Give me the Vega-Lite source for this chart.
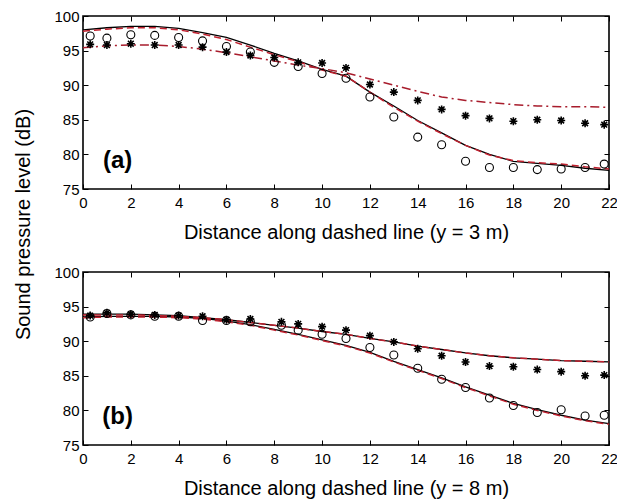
{
  "$schema": "https://vega.github.io/schema/vega-lite/v6.json",
  "padding": {"left": 12, "top": 8, "right": 2, "bottom": 5},
  "bounds": "flush",
  "spacing": 83,
  "datasets": {
    "lines": [
      {"panel":"a","model":"solid","curve":"1","x":0,"y":98.0},{"panel":"a","model":"solid","curve":"1","x":1,"y":98.3},{"panel":"a","model":"solid","curve":"1","x":2,"y":98.5},{"panel":"a","model":"solid","curve":"1","x":3,"y":98.5},{"panel":"a","model":"solid","curve":"1","x":4,"y":98.2},{"panel":"a","model":"solid","curve":"1","x":5,"y":97.6},{"panel":"a","model":"solid","curve":"1","x":6,"y":96.9},{"panel":"a","model":"solid","curve":"1","x":7,"y":95.8},{"panel":"a","model":"solid","curve":"1","x":8,"y":94.6},{"panel":"a","model":"solid","curve":"1","x":9,"y":93.5},{"panel":"a","model":"solid","curve":"1","x":10,"y":92.3},{"panel":"a","model":"solid","curve":"1","x":11,"y":91.3},{"panel":"a","model":"solid","curve":"1","x":12,"y":89.0},{"panel":"a","model":"solid","curve":"1","x":13,"y":87.0},{"panel":"a","model":"solid","curve":"1","x":14,"y":84.9},{"panel":"a","model":"solid","curve":"1","x":15,"y":83.1},{"panel":"a","model":"solid","curve":"1","x":16,"y":81.3},{"panel":"a","model":"solid","curve":"1","x":17,"y":80.0},{"panel":"a","model":"solid","curve":"1","x":18,"y":79.0},{"panel":"a","model":"solid","curve":"1","x":19,"y":78.7},{"panel":"a","model":"solid","curve":"1","x":20,"y":78.4},{"panel":"a","model":"solid","curve":"1","x":21,"y":78.0},{"panel":"a","model":"solid","curve":"1","x":22,"y":77.7},
      {"panel":"a","model":"dashed","curve":"1","x":0,"y":97.8},{"panel":"a","model":"dashed","curve":"1","x":1,"y":98.1},{"panel":"a","model":"dashed","curve":"1","x":2,"y":98.3},{"panel":"a","model":"dashed","curve":"1","x":3,"y":98.3},{"panel":"a","model":"dashed","curve":"1","x":4,"y":98.0},{"panel":"a","model":"dashed","curve":"1","x":5,"y":97.4},{"panel":"a","model":"dashed","curve":"1","x":6,"y":96.6},{"panel":"a","model":"dashed","curve":"1","x":7,"y":95.5},{"panel":"a","model":"dashed","curve":"1","x":8,"y":94.4},{"panel":"a","model":"dashed","curve":"1","x":9,"y":93.4},{"panel":"a","model":"dashed","curve":"1","x":10,"y":92.2},{"panel":"a","model":"dashed","curve":"1","x":11,"y":91.3},{"panel":"a","model":"dashed","curve":"1","x":12,"y":89.0},{"panel":"a","model":"dashed","curve":"1","x":13,"y":86.8},{"panel":"a","model":"dashed","curve":"1","x":14,"y":84.8},{"panel":"a","model":"dashed","curve":"1","x":15,"y":83.0},{"panel":"a","model":"dashed","curve":"1","x":16,"y":81.3},{"panel":"a","model":"dashed","curve":"1","x":17,"y":79.9},{"panel":"a","model":"dashed","curve":"1","x":18,"y":79.1},{"panel":"a","model":"dashed","curve":"1","x":19,"y":78.8},{"panel":"a","model":"dashed","curve":"1","x":20,"y":78.6},{"panel":"a","model":"dashed","curve":"1","x":21,"y":78.2},{"panel":"a","model":"dashed","curve":"1","x":22,"y":77.9},
      {"panel":"a","model":"dashdot","curve":"1","x":0,"y":95.4},{"panel":"a","model":"dashdot","curve":"1","x":1,"y":95.7},{"panel":"a","model":"dashdot","curve":"1","x":2,"y":95.8},{"panel":"a","model":"dashdot","curve":"1","x":3,"y":95.8},{"panel":"a","model":"dashdot","curve":"1","x":4,"y":95.6},{"panel":"a","model":"dashdot","curve":"1","x":5,"y":95.2},{"panel":"a","model":"dashdot","curve":"1","x":6,"y":94.7},{"panel":"a","model":"dashdot","curve":"1","x":7,"y":94.1},{"panel":"a","model":"dashdot","curve":"1","x":8,"y":93.5},{"panel":"a","model":"dashdot","curve":"1","x":9,"y":92.9},{"panel":"a","model":"dashdot","curve":"1","x":10,"y":92.4},{"panel":"a","model":"dashdot","curve":"1","x":11,"y":91.8},{"panel":"a","model":"dashdot","curve":"1","x":12,"y":90.9},{"panel":"a","model":"dashdot","curve":"1","x":13,"y":90.0},{"panel":"a","model":"dashdot","curve":"1","x":14,"y":89.1},{"panel":"a","model":"dashdot","curve":"1","x":15,"y":88.3},{"panel":"a","model":"dashdot","curve":"1","x":16,"y":87.8},{"panel":"a","model":"dashdot","curve":"1","x":17,"y":87.5},{"panel":"a","model":"dashdot","curve":"1","x":18,"y":87.2},{"panel":"a","model":"dashdot","curve":"1","x":19,"y":87.0},{"panel":"a","model":"dashdot","curve":"1","x":20,"y":86.9},{"panel":"a","model":"dashdot","curve":"1","x":21,"y":86.9},{"panel":"a","model":"dashdot","curve":"1","x":22,"y":86.8},
      {"panel":"b","model":"solid","curve":"upper","x":0,"y":93.9},{"panel":"b","model":"solid","curve":"upper","x":1,"y":93.9},{"panel":"b","model":"solid","curve":"upper","x":2,"y":93.9},{"panel":"b","model":"solid","curve":"upper","x":3,"y":93.8},{"panel":"b","model":"solid","curve":"upper","x":4,"y":93.7},{"panel":"b","model":"solid","curve":"upper","x":5,"y":93.4},{"panel":"b","model":"solid","curve":"upper","x":6,"y":93.1},{"panel":"b","model":"solid","curve":"upper","x":7,"y":92.7},{"panel":"b","model":"solid","curve":"upper","x":8,"y":92.3},{"panel":"b","model":"solid","curve":"upper","x":9,"y":91.9},{"panel":"b","model":"solid","curve":"upper","x":10,"y":91.4},{"panel":"b","model":"solid","curve":"upper","x":11,"y":91.0},{"panel":"b","model":"solid","curve":"upper","x":12,"y":90.4},{"panel":"b","model":"solid","curve":"upper","x":13,"y":89.9},{"panel":"b","model":"solid","curve":"upper","x":14,"y":89.3},{"panel":"b","model":"solid","curve":"upper","x":15,"y":88.8},{"panel":"b","model":"solid","curve":"upper","x":16,"y":88.3},{"panel":"b","model":"solid","curve":"upper","x":17,"y":87.9},{"panel":"b","model":"solid","curve":"upper","x":18,"y":87.6},{"panel":"b","model":"solid","curve":"upper","x":19,"y":87.4},{"panel":"b","model":"solid","curve":"upper","x":20,"y":87.2},{"panel":"b","model":"solid","curve":"upper","x":21,"y":87.1},{"panel":"b","model":"solid","curve":"upper","x":22,"y":87.0},
      {"panel":"b","model":"solid","curve":"lower","x":0,"y":93.5},{"panel":"b","model":"solid","curve":"lower","x":1,"y":93.6},{"panel":"b","model":"solid","curve":"lower","x":2,"y":93.6},{"panel":"b","model":"solid","curve":"lower","x":3,"y":93.6},{"panel":"b","model":"solid","curve":"lower","x":4,"y":93.5},{"panel":"b","model":"solid","curve":"lower","x":5,"y":93.3},{"panel":"b","model":"solid","curve":"lower","x":6,"y":92.9},{"panel":"b","model":"solid","curve":"lower","x":7,"y":92.4},{"panel":"b","model":"solid","curve":"lower","x":8,"y":91.7},{"panel":"b","model":"solid","curve":"lower","x":9,"y":91.0},{"panel":"b","model":"solid","curve":"lower","x":10,"y":90.2},{"panel":"b","model":"solid","curve":"lower","x":11,"y":89.4},{"panel":"b","model":"solid","curve":"lower","x":12,"y":88.4},{"panel":"b","model":"solid","curve":"lower","x":13,"y":87.1},{"panel":"b","model":"solid","curve":"lower","x":14,"y":85.9},{"panel":"b","model":"solid","curve":"lower","x":15,"y":84.7},{"panel":"b","model":"solid","curve":"lower","x":16,"y":83.4},{"panel":"b","model":"solid","curve":"lower","x":17,"y":82.2},{"panel":"b","model":"solid","curve":"lower","x":18,"y":81.0},{"panel":"b","model":"solid","curve":"lower","x":19,"y":80.1},{"panel":"b","model":"solid","curve":"lower","x":20,"y":79.3},{"panel":"b","model":"solid","curve":"lower","x":21,"y":78.6},{"panel":"b","model":"solid","curve":"lower","x":22,"y":78.1},
      {"panel":"b","model":"dashed","curve":"upper","x":0,"y":93.8},{"panel":"b","model":"dashed","curve":"upper","x":1,"y":93.8},{"panel":"b","model":"dashed","curve":"upper","x":2,"y":93.8},{"panel":"b","model":"dashed","curve":"upper","x":3,"y":93.7},{"panel":"b","model":"dashed","curve":"upper","x":4,"y":93.6},{"panel":"b","model":"dashed","curve":"upper","x":5,"y":93.4},{"panel":"b","model":"dashed","curve":"upper","x":6,"y":93.1},{"panel":"b","model":"dashed","curve":"upper","x":7,"y":92.7},{"panel":"b","model":"dashed","curve":"upper","x":8,"y":92.3},{"panel":"b","model":"dashed","curve":"upper","x":9,"y":91.9},{"panel":"b","model":"dashed","curve":"upper","x":10,"y":91.4},{"panel":"b","model":"dashed","curve":"upper","x":11,"y":91.0},{"panel":"b","model":"dashed","curve":"upper","x":12,"y":90.4},{"panel":"b","model":"dashed","curve":"upper","x":13,"y":89.9},{"panel":"b","model":"dashed","curve":"upper","x":14,"y":89.3},{"panel":"b","model":"dashed","curve":"upper","x":15,"y":88.8},{"panel":"b","model":"dashed","curve":"upper","x":16,"y":88.3},{"panel":"b","model":"dashed","curve":"upper","x":17,"y":87.9},{"panel":"b","model":"dashed","curve":"upper","x":18,"y":87.6},{"panel":"b","model":"dashed","curve":"upper","x":19,"y":87.4},{"panel":"b","model":"dashed","curve":"upper","x":20,"y":87.2},{"panel":"b","model":"dashed","curve":"upper","x":21,"y":87.1},{"panel":"b","model":"dashed","curve":"upper","x":22,"y":87.0},
      {"panel":"b","model":"dashed","curve":"lower","x":0,"y":93.4},{"panel":"b","model":"dashed","curve":"lower","x":1,"y":93.5},{"panel":"b","model":"dashed","curve":"lower","x":2,"y":93.5},{"panel":"b","model":"dashed","curve":"lower","x":3,"y":93.5},{"panel":"b","model":"dashed","curve":"lower","x":4,"y":93.4},{"panel":"b","model":"dashed","curve":"lower","x":5,"y":93.2},{"panel":"b","model":"dashed","curve":"lower","x":6,"y":92.8},{"panel":"b","model":"dashed","curve":"lower","x":7,"y":92.3},{"panel":"b","model":"dashed","curve":"lower","x":8,"y":91.6},{"panel":"b","model":"dashed","curve":"lower","x":9,"y":90.9},{"panel":"b","model":"dashed","curve":"lower","x":10,"y":90.1},{"panel":"b","model":"dashed","curve":"lower","x":11,"y":89.3},{"panel":"b","model":"dashed","curve":"lower","x":12,"y":88.3},{"panel":"b","model":"dashed","curve":"lower","x":13,"y":87.0},{"panel":"b","model":"dashed","curve":"lower","x":14,"y":85.8},{"panel":"b","model":"dashed","curve":"lower","x":15,"y":84.6},{"panel":"b","model":"dashed","curve":"lower","x":16,"y":83.3},{"panel":"b","model":"dashed","curve":"lower","x":17,"y":82.1},{"panel":"b","model":"dashed","curve":"lower","x":18,"y":80.9},{"panel":"b","model":"dashed","curve":"lower","x":19,"y":80.0},{"panel":"b","model":"dashed","curve":"lower","x":20,"y":79.2},{"panel":"b","model":"dashed","curve":"lower","x":21,"y":78.5},{"panel":"b","model":"dashed","curve":"lower","x":22,"y":78.0}
    ],
    "points": [
      {"panel":"a","marker":"circle","x":0.3,"y":97.1},{"panel":"a","marker":"circle","x":1,"y":96.8},{"panel":"a","marker":"circle","x":2,"y":97.3},{"panel":"a","marker":"circle","x":3,"y":97.2},{"panel":"a","marker":"circle","x":4,"y":96.9},{"panel":"a","marker":"circle","x":5,"y":96.4},{"panel":"a","marker":"circle","x":6,"y":95.6},{"panel":"a","marker":"circle","x":7,"y":94.8},{"panel":"a","marker":"circle","x":8,"y":93.3},{"panel":"a","marker":"circle","x":9,"y":92.7},{"panel":"a","marker":"circle","x":10,"y":91.7},{"panel":"a","marker":"circle","x":11,"y":91.0},{"panel":"a","marker":"circle","x":12,"y":88.3},{"panel":"a","marker":"circle","x":13,"y":85.4},{"panel":"a","marker":"circle","x":14,"y":82.5},{"panel":"a","marker":"circle","x":15,"y":81.4},{"panel":"a","marker":"circle","x":16,"y":79.0},{"panel":"a","marker":"circle","x":17,"y":78.1},{"panel":"a","marker":"circle","x":18,"y":78.1},{"panel":"a","marker":"circle","x":19,"y":77.8},{"panel":"a","marker":"circle","x":20,"y":77.9},{"panel":"a","marker":"circle","x":21,"y":78.1},{"panel":"a","marker":"circle","x":21.8,"y":78.6},
      {"panel":"a","marker":"star","x":0.3,"y":95.9},{"panel":"a","marker":"star","x":1,"y":95.8},{"panel":"a","marker":"star","x":2,"y":96.0},{"panel":"a","marker":"star","x":3,"y":95.8},{"panel":"a","marker":"star","x":4,"y":95.8},{"panel":"a","marker":"star","x":5,"y":95.5},{"panel":"a","marker":"star","x":6,"y":94.8},{"panel":"a","marker":"star","x":7,"y":94.3},{"panel":"a","marker":"star","x":8,"y":94.0},{"panel":"a","marker":"star","x":9,"y":93.3},{"panel":"a","marker":"star","x":10,"y":93.2},{"panel":"a","marker":"star","x":11,"y":92.5},{"panel":"a","marker":"star","x":12,"y":90.1},{"panel":"a","marker":"star","x":13,"y":89.0},{"panel":"a","marker":"star","x":14,"y":87.8},{"panel":"a","marker":"star","x":15,"y":86.5},{"panel":"a","marker":"star","x":16,"y":85.6},{"panel":"a","marker":"star","x":17,"y":85.2},{"panel":"a","marker":"star","x":18,"y":84.8},{"panel":"a","marker":"star","x":19,"y":85.0},{"panel":"a","marker":"star","x":20,"y":84.9},{"panel":"a","marker":"star","x":21,"y":84.5},{"panel":"a","marker":"star","x":21.8,"y":84.3},
      {"panel":"b","marker":"circle","x":0.3,"y":93.5},{"panel":"b","marker":"circle","x":1,"y":94.0},{"panel":"b","marker":"circle","x":2,"y":93.8},{"panel":"b","marker":"circle","x":3,"y":93.6},{"panel":"b","marker":"circle","x":4,"y":93.6},{"panel":"b","marker":"circle","x":5,"y":93.0},{"panel":"b","marker":"circle","x":6,"y":93.0},{"panel":"b","marker":"circle","x":7,"y":92.8},{"panel":"b","marker":"circle","x":8.3,"y":92.3},{"panel":"b","marker":"circle","x":9,"y":91.6},{"panel":"b","marker":"circle","x":10,"y":91.0},{"panel":"b","marker":"circle","x":11,"y":90.4},{"panel":"b","marker":"circle","x":12,"y":89.1},{"panel":"b","marker":"circle","x":13,"y":88.0},{"panel":"b","marker":"circle","x":14,"y":86.1},{"panel":"b","marker":"circle","x":15,"y":84.5},{"panel":"b","marker":"circle","x":16,"y":83.3},{"panel":"b","marker":"circle","x":17,"y":81.8},{"panel":"b","marker":"circle","x":18,"y":80.7},{"panel":"b","marker":"circle","x":19,"y":79.7},{"panel":"b","marker":"circle","x":20,"y":80.1},{"panel":"b","marker":"circle","x":21,"y":79.2},{"panel":"b","marker":"circle","x":21.8,"y":79.3},
      {"panel":"b","marker":"star","x":0.3,"y":93.7},{"panel":"b","marker":"star","x":1,"y":94.1},{"panel":"b","marker":"star","x":2,"y":93.9},{"panel":"b","marker":"star","x":3,"y":93.8},{"panel":"b","marker":"star","x":4,"y":93.7},{"panel":"b","marker":"star","x":5,"y":93.6},{"panel":"b","marker":"star","x":6,"y":93.1},{"panel":"b","marker":"star","x":7,"y":93.2},{"panel":"b","marker":"star","x":8.3,"y":92.8},{"panel":"b","marker":"star","x":9,"y":92.5},{"panel":"b","marker":"star","x":10,"y":92.1},{"panel":"b","marker":"star","x":11,"y":91.6},{"panel":"b","marker":"star","x":12,"y":90.8},{"panel":"b","marker":"star","x":13,"y":89.9},{"panel":"b","marker":"star","x":14,"y":88.9},{"panel":"b","marker":"star","x":15,"y":87.9},{"panel":"b","marker":"star","x":16,"y":87.0},{"panel":"b","marker":"star","x":17,"y":86.4},{"panel":"b","marker":"star","x":18,"y":86.3},{"panel":"b","marker":"star","x":19,"y":85.9},{"panel":"b","marker":"star","x":20,"y":85.6},{"panel":"b","marker":"star","x":21,"y":85.0},{"panel":"b","marker":"star","x":21.8,"y":85.1}
    ],
    "labels": [
      {"panel":"a","text":"(a)","x":1.45,"y":79.0},
      {"panel":"b","text":"(b)","x":1.45,"y":79.1}
    ]
  },
  "vconcat": [
    {
      "width": 526, "height": 173,
      "resolve": {"axis": {"x": "independent", "y": "independent"}},
      "layer": [
        {
          "data": {"name": "lines"},
          "transform": [{"filter": "datum.panel == 'a' && datum.model == 'solid'"}],
          "mark": {"type": "line", "color": "black", "strokeWidth": 1.3},
          "encoding": {
            "x": {"field": "x", "type": "quantitative", "scale": {"domain": [0, 22], "nice": false},
                  "axis": {"orient": "bottom", "values": [0,2,4,6,8,10,12,14,16,18,20,22], "title": "Distance along dashed line (y = 3 m)"}},
            "y": {"field": "y", "type": "quantitative", "scale": {"domain": [75, 100], "nice": false, "zero": false},
                  "axis": {"orient": "left", "values": [75,80,85,90,95,100], "title": "Sound pressure level (dB)", "titleX": -60, "titleY": 208, "titleAlign": "center", "titleBaseline": "middle", "titleAngle": -90}},
            "detail": {"field": "curve"}
          }
        },
        {
          "data": {"name": "lines"},
          "transform": [{"filter": "datum.panel == 'a' && datum.model == 'dashed'"}],
          "mark": {"type": "line", "color": "#c0202e", "strokeWidth": 1.5, "strokeDash": [7, 4]},
          "encoding": {
            "x": {"field": "x", "type": "quantitative", "scale": {"domain": [0, 22], "nice": false},
                  "axis": {"orient": "top", "values": [0,2,4,6,8,10,12,14,16,18,20,22], "labels": false, "title": null}},
            "y": {"field": "y", "type": "quantitative", "scale": {"domain": [75, 100], "nice": false, "zero": false},
                  "axis": {"orient": "right", "values": [75,80,85,90,95,100], "labels": false, "title": null}},
            "detail": {"field": "curve"}
          }
        },
        {
          "data": {"name": "lines"},
          "transform": [{"filter": "datum.panel == 'a' && datum.model == 'dashdot'"}],
          "mark": {"type": "line", "color": "#a81c2c", "strokeWidth": 1.5, "strokeDash": [9, 4, 2, 4]},
          "encoding": {
            "x": {"field": "x", "type": "quantitative", "axis": null},
            "y": {"field": "y", "type": "quantitative", "axis": null},
            "detail": {"field": "curve"}
          }
        },
        {
          "data": {"name": "points"},
          "transform": [{"filter": "datum.panel == 'a' && datum.marker == 'circle'"}],
          "mark": {"type": "point", "shape": "circle", "filled": false, "stroke": "black", "strokeWidth": 1.1, "size": 64, "opacity": 1},
          "encoding": {
            "x": {"field": "x", "type": "quantitative", "axis": null},
            "y": {"field": "y", "type": "quantitative", "axis": null}
          }
        },
        {
          "data": {"name": "points"},
          "transform": [{"filter": "datum.panel == 'a' && datum.marker == 'star'"}],
          "mark": {"type": "point", "shape": "M0,-1L0,1M-1,0L1,0M-0.72,-0.72L0.72,0.72M-0.72,0.72L0.72,-0.72", "filled": false, "stroke": "black", "strokeWidth": 1.6, "size": 64, "opacity": 1},
          "encoding": {
            "x": {"field": "x", "type": "quantitative", "axis": null},
            "y": {"field": "y", "type": "quantitative", "axis": null}
          }
        },
        {
          "data": {"name": "labels"},
          "transform": [{"filter": "datum.panel == 'a'"}],
          "mark": {"type": "text", "font": "Liberation Sans", "fontSize": 24, "fontWeight": "bold", "color": "black", "align": "center", "baseline": "middle"},
          "encoding": {
            "x": {"field": "x", "type": "quantitative", "axis": null},
            "y": {"field": "y", "type": "quantitative", "axis": null},
            "text": {"field": "text"}
          }
        }
      ]
    },
    {
      "width": 526, "height": 173,
      "resolve": {"axis": {"x": "independent", "y": "independent"}},
      "layer": [
        {
          "data": {"name": "lines"},
          "transform": [{"filter": "datum.panel == 'b' && datum.model == 'solid'"}],
          "mark": {"type": "line", "color": "black", "strokeWidth": 1.3},
          "encoding": {
            "x": {"field": "x", "type": "quantitative", "scale": {"domain": [0, 22], "nice": false},
                  "axis": {"orient": "bottom", "values": [0,2,4,6,8,10,12,14,16,18,20,22], "title": "Distance along dashed line (y = 8 m)"}},
            "y": {"field": "y", "type": "quantitative", "scale": {"domain": [75, 100], "nice": false, "zero": false},
                  "axis": {"orient": "left", "values": [75,80,85,90,95,100], "title": null}},
            "detail": {"field": "curve"}
          }
        },
        {
          "data": {"name": "lines"},
          "transform": [{"filter": "datum.panel == 'b' && datum.model == 'dashed'"}],
          "mark": {"type": "line", "color": "#c0202e", "strokeWidth": 1.5, "strokeDash": [7, 4]},
          "encoding": {
            "x": {"field": "x", "type": "quantitative", "scale": {"domain": [0, 22], "nice": false},
                  "axis": {"orient": "top", "values": [0,2,4,6,8,10,12,14,16,18,20,22], "labels": false, "title": null}},
            "y": {"field": "y", "type": "quantitative", "scale": {"domain": [75, 100], "nice": false, "zero": false},
                  "axis": {"orient": "right", "values": [75,80,85,90,95,100], "labels": false, "title": null}},
            "detail": {"field": "curve"}
          }
        },
        {
          "data": {"name": "points"},
          "transform": [{"filter": "datum.panel == 'b' && datum.marker == 'circle'"}],
          "mark": {"type": "point", "shape": "circle", "filled": false, "stroke": "black", "strokeWidth": 1.1, "size": 64, "opacity": 1},
          "encoding": {
            "x": {"field": "x", "type": "quantitative", "axis": null},
            "y": {"field": "y", "type": "quantitative", "axis": null}
          }
        },
        {
          "data": {"name": "points"},
          "transform": [{"filter": "datum.panel == 'b' && datum.marker == 'star'"}],
          "mark": {"type": "point", "shape": "M0,-1L0,1M-1,0L1,0M-0.72,-0.72L0.72,0.72M-0.72,0.72L0.72,-0.72", "filled": false, "stroke": "black", "strokeWidth": 1.6, "size": 64, "opacity": 1},
          "encoding": {
            "x": {"field": "x", "type": "quantitative", "axis": null},
            "y": {"field": "y", "type": "quantitative", "axis": null}
          }
        },
        {
          "data": {"name": "labels"},
          "transform": [{"filter": "datum.panel == 'b'"}],
          "mark": {"type": "text", "font": "Liberation Sans", "fontSize": 24, "fontWeight": "bold", "color": "black", "align": "center", "baseline": "middle"},
          "encoding": {
            "x": {"field": "x", "type": "quantitative", "axis": null},
            "y": {"field": "y", "type": "quantitative", "axis": null},
            "text": {"field": "text"}
          }
        }
      ]
    }
  ],
  "config": {
    "background": "white",
    "view": {"stroke": "black", "strokeWidth": 1.6},
    "axis": {
      "domain": false, "grid": false,
      "ticks": true, "tickSize": -5, "tickColor": "black", "tickWidth": 1,
      "labelFont": "Liberation Sans", "labelFontSize": 15, "labelColor": "black", "labelPadding": 11,
      "titleFont": "Liberation Sans", "titleFontSize": 20, "titleFontWeight": "normal", "titleColor": "black", "titlePadding": 12
    },
    "axisX": {"labelFlush": false},
    "axisY": {"labelPadding": 9}
  }
}
